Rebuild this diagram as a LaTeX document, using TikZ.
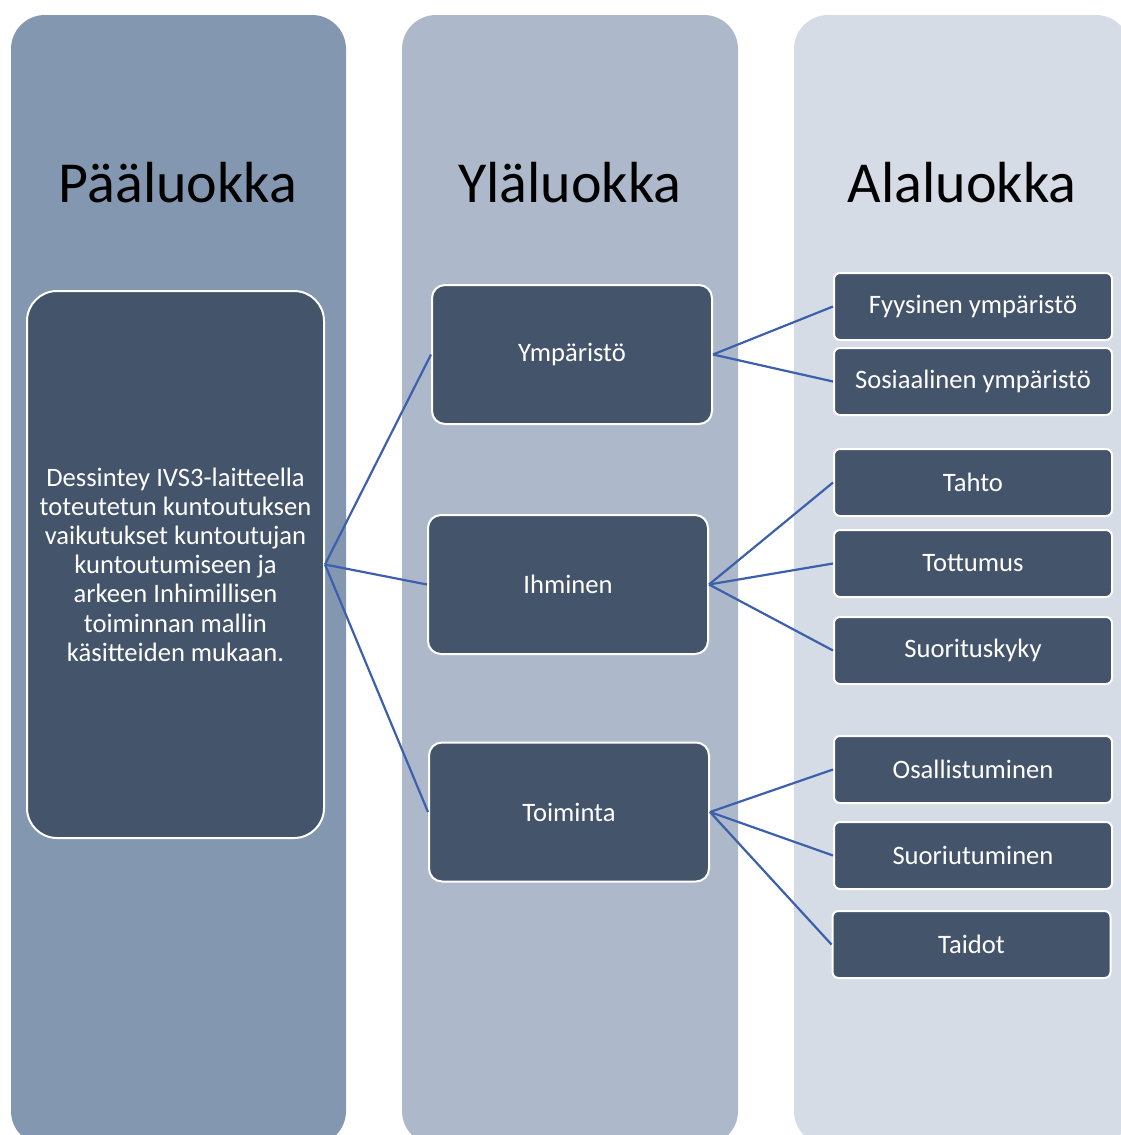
\documentclass[tikz,border=0pt]{standalone}
\usepackage{fontspec}
\setmainfont{Carlito}
\usepackage{xcolor}
\definecolor{colA}{HTML}{8497B0}
\definecolor{colB}{HTML}{ADB9CA}
\definecolor{colC}{HTML}{D6DCE5}
\definecolor{boxcolor}{HTML}{44546A}
\definecolor{linkcolor}{RGB}{61,96,173}
\usetikzlibrary{positioning}

\begin{document}
\begin{tikzpicture}[
    x=1pt,y=-1pt,
    column/.style={rounded corners=34pt},
    title/.style={font=\fontsize{58}{68}\selectfont,text=black},
    box/.style={draw=white,line width=2pt,fill=boxcolor,text=white,
      inner sep=0pt,align=center,font=\fontsize{26.6}{29.2}\selectfont},
    mainbox/.style={box,rounded corners=30pt,minimum width=297pt,minimum height=547pt},
    midbox/.style={box,rounded corners=13pt,minimum width=280pt,minimum height=139pt},
    subbox/.style={box,rounded corners=6pt,minimum width=278pt,minimum height=67pt},
    link/.style={draw=linkcolor,line width=2.2pt}
  ]
  \useasboundingbox (0,0) rectangle (1121,1135);
  \clip (0,0) rectangle (1121,1135);
  % columns
  \fill[colA,column] (11,15) rectangle (346,1145);
  \fill[colB,column] (402,15) rectangle (738,1145);
  \fill[colC,column] (794,15) rectangle (1130,1145);
  \node[title] (paa) at (178,183) {Pääluokka};
  \node[title] (yla) at (570,183) {Yläluokka};
  \node[title] (ala) at (962,183) {Alaluokka};
  % main category
  \node[mainbox] (main) at (175.5,564.5) {Dessintey IVS3-laitteella\\toteutetun kuntoutuksen\\vaikutukset kuntoutujan\\kuntoutumiseen ja\\arkeen Inhimillisen\\toiminnan mallin\\käsitteiden mukaan.};
  % upper categories
  \node[midbox] (ymp) at (572,354.5) {Ympäristö};
  \node[midbox] (ihm) at (568,584.5) {Ihminen};
  \node[midbox] (toi) at (569,812) {Toiminta};
  % sub categories
  \node[subbox] (fyy) at (973,306.5) {Fyysinen ympäristö};
  \node[subbox] (sos) at (973,381.5) {Sosiaalinen ympäristö};
  \node[subbox] (tah) at (973,482.5) {Tahto};
  \node[subbox] (tot) at (973,563.5) {Tottumus};
  \node[subbox] (suk) at (973,650.5) {Suorituskyky};
  \node[subbox] (osa) at (973,769.5) {Osallistuminen};
  \node[subbox] (sur) at (973,855.5) {Suoriutuminen};
  \node[subbox] (tai) at (971.5,944.5) {Taidot};
  \path[link]
    (main.east) edge (ymp.west)
    (main.east) edge (ihm.west)
    (main.east) edge (toi.west)
    (ymp.east) edge (fyy.west)
    (ymp.east) edge (sos.west)
    (ihm.east) edge (tah.west)
    (ihm.east) edge (tot.west)
    (ihm.east) edge (suk.west)
    (toi.east) edge (osa.west)
    (toi.east) edge (sur.west)
    (toi.east) edge (tai.west);
\end{tikzpicture}
\end{document}
